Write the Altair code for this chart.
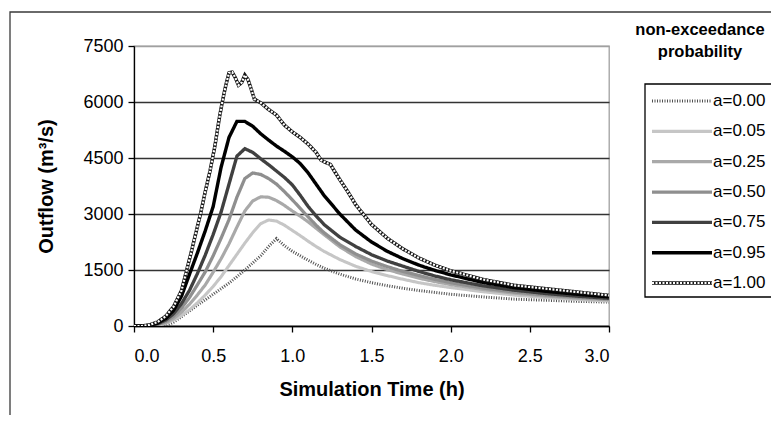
import altair as alt
import pandas as pd

SERIES = ["a=0.00", "a=0.05", "a=0.25", "a=0.50", "a=0.75", "a=0.95", "a=1.00"]
LEGEND_TITLE = ["non-exceedance", "probability"]

# common time grid (h) for the smooth series
TIME = [0, 0.05, 0.1, 0.15, 0.2, 0.25, 0.3, 0.35, 0.4, 0.45, 0.5, 0.55, 0.6,
        0.65, 0.7, 0.75, 0.8, 0.85, 0.9, 0.95, 1.0, 1.05, 1.1, 1.15, 1.2,
        1.3, 1.4, 1.5, 1.6, 1.7, 1.8, 1.9, 2.0, 2.2, 2.4, 2.6, 2.8, 3.0]

Q_000 = [0, 0, 0, 0, 0, 100, 250, 400, 560, 700, 850, 1000, 1150, 1320, 1500,
         1690, 1880, 2130, 2340, 2150, 2000, 1880, 1760, 1650, 1550, 1390, 1260,
         1160, 1080, 1010, 950, 900, 850, 780, 720, 690, 660, 640]
Q_005 = [0, 0, 0, 20, 70, 160, 280, 430, 620, 830, 1060, 1320, 1620, 1920, 2220,
         2500, 2740, 2840, 2810, 2700, 2560, 2420, 2270, 2130, 2000, 1780, 1600,
         1460, 1350, 1250, 1160, 1090, 1030, 920, 830, 760, 710, 670]
Q_025 = [0, 0, 0, 30, 90, 200, 370, 580, 830, 1100, 1440, 1800, 2200, 2650, 3080,
         3350, 3460, 3450, 3360, 3230, 3080, 2940, 2790, 2620, 2450, 2120, 1860,
         1660, 1510, 1390, 1280, 1190, 1110, 980, 880, 800, 740, 700]
Q_050 = [0, 0, 5, 40, 120, 260, 480, 760, 1100, 1450, 1880, 2350, 2850, 3450, 3950,
         4100, 4060, 3950, 3800, 3600, 3380, 3150, 2920, 2700, 2500, 2180, 1930,
         1740, 1590, 1460, 1350, 1250, 1160, 1020, 910, 830, 770, 720]
Q_075 = [0, 0, 10, 60, 160, 330, 600, 950, 1400, 1900, 2450, 3050, 3800, 4550, 4750,
         4650, 4480, 4320, 4150, 3980, 3780, 3500, 3200, 2950, 2720, 2380, 2130,
         1910, 1740, 1600, 1460, 1340, 1240, 1080, 960, 870, 800, 740]
Q_095 = [0, 0, 20, 80, 200, 420, 800, 1380, 1950, 2550, 3200, 4250, 5050, 5480, 5480,
         5350, 5150, 4980, 4820, 4680, 4530, 4350, 4100, 3800, 3500, 3000, 2570,
         2250, 2000, 1800, 1630, 1490, 1370, 1170, 1030, 930, 850, 780]

# the a=1.00 envelope is jagged, so it has a finer time grid of its own
TIME_100 = [0, 0.05, 0.1, 0.15, 0.2, 0.25, 0.3, 0.33, 0.36, 0.39, 0.42, 0.45, 0.48,
            0.51, 0.54, 0.56, 0.58, 0.60, 0.62, 0.64, 0.66, 0.68, 0.70, 0.72, 0.74,
            0.76, 0.80, 0.85, 0.90, 0.95, 1.00, 1.05, 1.10, 1.15, 1.18, 1.21, 1.24,
            1.27, 1.30, 1.35, 1.40, 1.50, 1.60, 1.70, 1.80, 1.90, 2.00, 2.20, 2.40,
            2.60, 2.80, 3.00]
Q_100 = [0, 0, 30, 110, 260, 520, 950, 1450, 1950, 2480, 3000, 3600, 4150, 4800,
         5600, 6050, 6450, 6780, 6800, 6650, 6450, 6520, 6720, 6600, 6350, 6080,
         5980, 5800, 5650, 5380, 5200, 5050, 4870, 4650, 4450, 4380, 4330, 4120,
         3920, 3600, 3250, 2720, 2350, 2060, 1820, 1630, 1480, 1250, 1090, 1000,
         910, 820]

Y_TICKS = [0, 1500, 3000, 4500, 6000, 7500]
X_TICKS = [0.0, 0.5, 1.0, 1.5, 2.0, 2.5, 3.0]

COLORS = ["#505050", "#c6c6c6", "#a9a9a9", "#8f8f8f", "#404040", "#000000", "#141414"]
WIDTHS = [3.0, 3.5, 3.5, 3.5, 3.5, 4.0, 6.0]
DASHES = [[1, 1.5], [1, 0], [1, 0], [1, 0], [1, 0], [1, 0], [1, 0]]

rows = []
for name, q in zip(SERIES[:6], [Q_000, Q_005, Q_025, Q_050, Q_075, Q_095]):
    for t, v in zip(TIME, q):
        rows.append({"series": name, "t": t, "q": v})
for t, v in zip(TIME_100, Q_100):
    rows.append({"series": "a=1.00", "t": t, "q": v})
df = pd.DataFrame(rows)
leg_df = pd.DataFrame({"series": SERIES})

FONT = "Liberation Sans"

color_enc = alt.Color("series:N", scale=alt.Scale(domain=SERIES, range=COLORS), legend=None)
width_enc = alt.StrokeWidth("series:N", scale=alt.Scale(domain=SERIES, range=WIDTHS), legend=None)
dash_enc = alt.StrokeDash("series:N", scale=alt.Scale(domain=SERIES, range=DASHES), legend=None)

x_scale = alt.Scale(domain=[0, 3], nice=False)
y_scale = alt.Scale(domain=[0, 7500], nice=False)

x_enc = alt.X("t:Q", scale=x_scale,
              axis=alt.Axis(values=X_TICKS, format=".1f", title="Simulation Time (h)",
                            grid=False, tickSize=6, labelPadding=15,
                            titlePadding=14))
y_enc = alt.Y("q:Q", scale=y_scale,
              axis=alt.Axis(values=Y_TICKS, format="d", title="Outflow (m³/s)", grid=True,
                            gridColor={"condition": {"test": "datum.value >= 7500",
                                                     "value": "#a0a0a0"},
                                       "value": "#333333"},
                            tickSize=6, labelPadding=5, titlePadding=26))

lines = alt.Chart(df).mark_line(clip=True).encode(
    x=x_enc, y=y_enc, color=color_enc, strokeWidth=width_enc, strokeDash=dash_enc,
)

hatch = alt.Chart(df).transform_filter(alt.datum.series == "a=1.00").mark_line(
    color="#ffffff", strokeWidth=2.2, strokeDash=[2, 1.5], clip=True
).encode(x=alt.X("t:Q", scale=x_scale), y=alt.Y("q:Q", scale=y_scale, axis=None))

# legend, drawn with the same colour / width / dash scales
leg_y = alt.Y("series:N",
              scale=alt.Scale(type="point", domain=SERIES, range=[55, 237], padding=0),
              axis=None)
leg_lines = alt.Chart(leg_df).mark_rule().encode(
    x=alt.value(518), x2=alt.value(578), y=leg_y,
    color=color_enc, strokeWidth=width_enc, strokeDash=dash_enc,
)
leg_hatch = alt.Chart(leg_df).transform_filter(alt.datum.series == "a=1.00").mark_rule(
    color="#ffffff", strokeWidth=2.2, strokeDash=[2, 1.5]
).encode(x=alt.value(518), x2=alt.value(578), y=leg_y)
leg_text = alt.Chart(leg_df).mark_text(
    align="left", baseline="middle", font=FONT, fontSize=17, color="#000000"
).encode(x=alt.value(579), y=leg_y, text="series:N")
leg_box = alt.Chart(pd.DataFrame({"k": [0]})).mark_rect(
    fillOpacity=0, stroke="#000000", strokeWidth=1.3
).encode(x=alt.value(511), x2=alt.value(720), y=alt.value(38), y2=alt.value(251))
leg_title = alt.Chart(pd.DataFrame({"k": [0]})).mark_text(
    text=LEGEND_TITLE, align="center", baseline="middle", font=FONT, fontSize=16.5,
    fontWeight="bold", lineHeight=22, color="#000000"
).encode(x=alt.value(566), y=alt.value(-16))

frame = alt.Chart(pd.DataFrame({"k": [0]})).mark_rect(
    fillOpacity=0, stroke="#3a3a3a", strokeWidth=1.3
).encode(x=alt.value(-124), y=alt.value(-34), x2=alt.value(900), y2=alt.value(600))

chart = alt.layer(
    lines, hatch, leg_box, leg_lines, leg_hatch, leg_text, leg_title, frame
).resolve_scale(y="independent").properties(
    width=475, height=280,
    autosize=alt.AutoSizeParams(type="none"),
    padding={"left": 126, "top": 38, "right": 162, "bottom": 89},
).configure(background="#ffffff").configure_view(
    stroke="#a0a0a0", strokeWidth=1.3
).configure_axis(
    labelFont=FONT, labelFontSize=18, labelColor="#000000",
    titleFont=FONT, titleFontSize=20, titleFontWeight="bold", titleColor="#000000",
    domainColor="#000000", tickColor="#000000", domainWidth=1.3, tickWidth=1.3,
    gridWidth=1.3,
)

chart.save("out.html", embed_options={"renderer": "svg", "actions": False})
